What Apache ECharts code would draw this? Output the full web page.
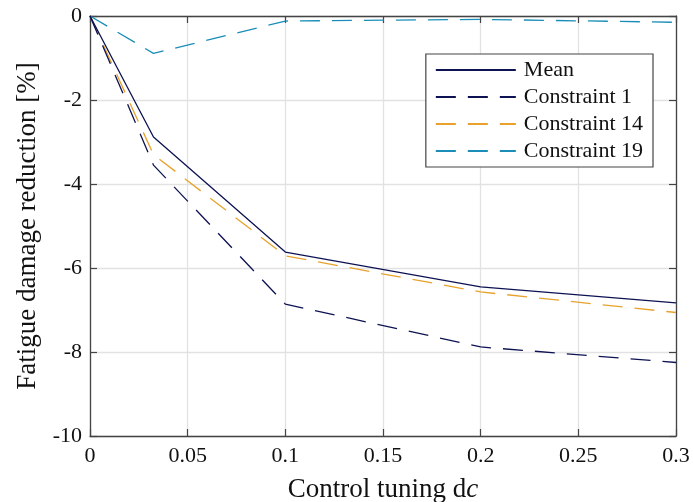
<!DOCTYPE html>
<html><head><meta charset="utf-8">
<script src="https://cdn.jsdelivr.net/npm/echarts@6/dist/echarts.min.js"></script>
<style>html,body{margin:0;padding:0;background:#fff}#c{width:694px;height:502px}</style>
</head><body><div id="c"></div>
<script>
const xValues = [0, 0.0325, 0.1, 0.2, 0.3];
const meanVals = [0, -2.88, -5.62, -6.45, -6.83];
const c1Vals = [0, -3.55, -6.86, -7.88, -8.25];
const c14Vals = [0, -3.3, -5.71, -6.57, -7.06];
const c19Vals = [0, -0.89, -0.12, -0.08, -0.15];
const seriesNames = ['Mean', 'Constraint 1', 'Constraint 14', 'Constraint 19'];
const seriesColors = ['#0d1252', '#0d1252', '#e8a22b', '#1a8db8'];
const seriesDashed = [false, true, true, true];
const seriesData = [meanVals, c1Vals, c14Vals, c19Vals];

const FONT = 'Liberation Serif';
const chart = echarts.init(document.getElementById('c'), null, {renderer: 'canvas'});
const axisLineColor = '#444';
const common = {
  splitLine: {show: false},
  axisLine: {show: true, onZero: false, lineStyle: {color: axisLineColor, width: 1.3}},
  axisTick: {show: true, inside: true, length: 7, lineStyle: {color: axisLineColor, width: 1.2}},
};
chart.setOption({
  animation: false,
  textStyle: {fontFamily: FONT},
  grid: {left: 90, right: 18, top: 16, bottom: 66, containLabel: false, outerBoundsMode: 'none'},
  legend: {
    right: 41, top: 54, orient: 'vertical',
    itemWidth: 80, itemHeight: 10, itemGap: 5,
    padding: [5, 10, 5, 9],
    borderColor: '#444', borderWidth: 1.2, backgroundColor: '#fff',
    itemStyle: {opacity: 0},
    textStyle: {fontFamily: FONT, fontSize: 22, lineHeight: 22, color: '#111', padding: [0, 0, 0, 3]},
    data: seriesNames.slice(),
  },
  xAxis: [
    Object.assign({}, common, {
      type: 'value', min: 0, max: 0.3, interval: 0.05, position: 'bottom',
      splitLine: {show: true, lineStyle: {color: '#e2e2e2', width: 1.3}},
      axisLabel: {fontFamily: FONT, fontSize: 22, color: '#111', margin: 9},
      name: 'Control tuning d{i|c}', nameLocation: 'middle', nameGap: 40,
      nameTextStyle: {fontFamily: FONT, fontSize: 27, color: '#111',
        rich: {i: {fontFamily: FONT, fontSize: 27, fontStyle: 'italic', color: '#111'}}},
    }),
    Object.assign({}, common, {
      type: 'value', min: 0, max: 0.3, interval: 0.05, position: 'top',
      axisLabel: {show: false},
    }),
  ],
  yAxis: [
    Object.assign({}, common, {
      type: 'value', min: -10, max: 0, interval: 2, position: 'left',
      splitLine: {show: true, lineStyle: {color: '#e2e2e2', width: 1.3}},
      axisLabel: {fontFamily: FONT, fontSize: 22, color: '#111', margin: 8},
      name: 'Fatigue damage reduction [%]', nameLocation: 'middle', nameGap: 49, nameRotate: 90,
      nameTextStyle: {fontFamily: FONT, fontSize: 27, color: '#111'},
    }),
    Object.assign({}, common, {
      type: 'value', min: -10, max: 0, interval: 2, position: 'right',
      axisLabel: {show: false},
    }),
  ],
  series: seriesNames.map((n, i) => ({
    name: n, type: 'line', symbol: 'none', xAxisIndex: 0, yAxisIndex: 0,
    data: xValues.map((x, j) => [x, seriesData[i][j]]),
    lineStyle: {color: seriesColors[i], width: 1.3,
      type: seriesDashed[i] ? [20, 12] : 'solid'},
    itemStyle: {color: seriesColors[i]},
    z: 4 - i,
  })),
});
</script></body></html>
